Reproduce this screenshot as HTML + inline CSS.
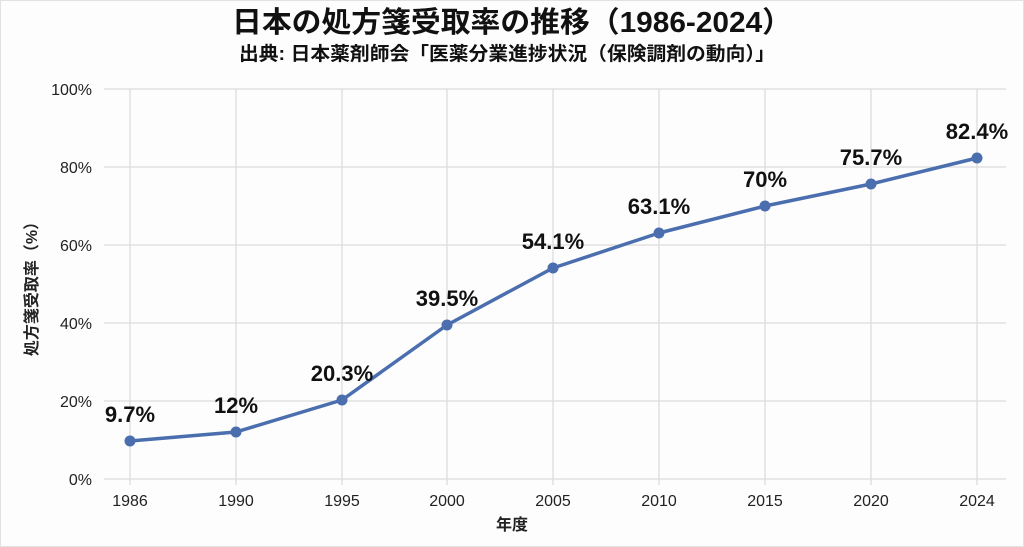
<!DOCTYPE html>
<html><head><meta charset="utf-8"><style>
body{margin:0;background:#fff;}
svg{display:block;font-family:"Liberation Sans","Noto Sans CJK JP",sans-serif;}
</style></head><body>
<svg width="1024" height="547" viewBox="0 0 1024 547">
<rect x="0" y="0" width="1024" height="547" fill="#fdfdfd"/>
<rect x="0.5" y="0.5" width="1023" height="546" fill="none" stroke="#e2e2e2"/>
<text x="512" y="32" text-anchor="middle" font-size="29" font-weight="bold" fill="#111" textLength="560" lengthAdjust="spacingAndGlyphs">日本の処方箋受取率の推移（1986-2024）</text>
<text x="507" y="60" text-anchor="middle" font-size="19" font-weight="bold" fill="#111" textLength="536" lengthAdjust="spacingAndGlyphs">出典: 日本薬剤師会「医薬分業進捗状況（保険調剤の動向）」</text>
<g stroke="#dcdcdc" stroke-width="1.3">
<line x1="104" y1="479" x2="1006" y2="479"/>
<line x1="104" y1="401" x2="1006" y2="401"/>
<line x1="104" y1="323" x2="1006" y2="323"/>
<line x1="104" y1="245" x2="1006" y2="245"/>
<line x1="104" y1="167" x2="1006" y2="167"/>
<line x1="104" y1="89" x2="1006" y2="89"/>
<line x1="130" y1="89" x2="130" y2="485"/>
<line x1="236" y1="89" x2="236" y2="485"/>
<line x1="342" y1="89" x2="342" y2="485"/>
<line x1="447" y1="89" x2="447" y2="485"/>
<line x1="553" y1="89" x2="553" y2="485"/>
<line x1="659" y1="89" x2="659" y2="485"/>
<line x1="765" y1="89" x2="765" y2="485"/>
<line x1="871" y1="89" x2="871" y2="485"/>
<line x1="977" y1="89" x2="977" y2="485"/>
</g>
<g font-size="16" fill="#222" text-anchor="end">
<text x="92" y="485">0%</text><text x="92" y="407">20%</text><text x="92" y="329">40%</text>
<text x="92" y="251">60%</text><text x="92" y="173">80%</text><text x="92" y="95">100%</text>
</g>
<g font-size="16" fill="#222" text-anchor="middle">
<text x="130" y="506">1986</text><text x="236" y="506">1990</text><text x="342" y="506">1995</text>
<text x="447" y="506">2000</text><text x="553" y="506">2005</text><text x="659" y="506">2010</text>
<text x="765" y="506">2015</text><text x="871" y="506">2020</text><text x="977" y="506">2024</text>
</g>
<text x="512" y="530" text-anchor="middle" font-size="16" font-weight="bold" fill="#222">年度</text>
<text transform="translate(37,285) rotate(-90)" text-anchor="middle" font-size="16" font-weight="bold" fill="#222">処方箋受取率（%）</text>
<polyline fill="none" stroke="#4a6eae" stroke-width="3.5" stroke-linejoin="round" points="130,441 236,432 342,400 447,325 553,268 659,233 765,206 871,184 977,158"/>
<g fill="#4a6eae">
<circle cx="130" cy="441" r="5.5"/><circle cx="236" cy="432" r="5.5"/><circle cx="342" cy="400" r="5.5"/>
<circle cx="447" cy="325" r="5.5"/><circle cx="553" cy="268" r="5.5"/><circle cx="659" cy="233" r="5.5"/>
<circle cx="765" cy="206" r="5.5"/><circle cx="871" cy="184" r="5.5"/><circle cx="977" cy="158" r="5.5"/>
</g>
<g font-size="22" font-weight="bold" fill="#111" text-anchor="middle">
<text x="130" y="422">9.7%</text><text x="236" y="413">12%</text><text x="342" y="381">20.3%</text>
<text x="447" y="306">39.5%</text><text x="553" y="249">54.1%</text><text x="659" y="214">63.1%</text>
<text x="765" y="187">70%</text><text x="871" y="165">75.7%</text><text x="977" y="139">82.4%</text>
</g>
</svg>
</body></html>
